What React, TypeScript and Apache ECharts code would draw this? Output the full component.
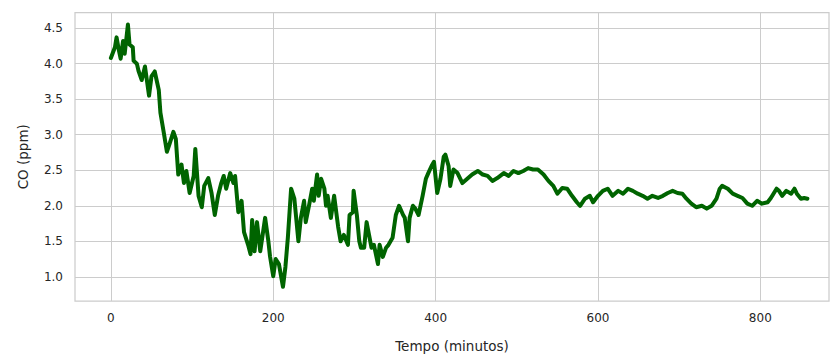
import React, { useEffect, useRef } from "react";
import * as echarts from "echarts";

const minutes = [
  0, 5, 7, 10, 12, 15, 17, 21, 23, 27, 28, 32, 34, 38, 42, 47, 50, 54, 59, 61, 65, 69, 72, 77, 80, 83, 87, 90, 93, 97,
  102, 104, 108, 112, 115, 120, 124, 128, 132, 136, 139, 142, 147, 151, 153, 157, 161, 164, 169, 172, 174, 177, 180, 184, 190, 194, 196, 200,
  203, 207, 212, 215, 218, 222, 226, 231, 234, 238, 240, 244, 248, 250, 254, 256, 259, 263, 265, 267, 271, 275, 280, 283, 287, 292, 294, 298,
  299, 303, 306, 308, 312, 315, 318, 321, 324, 329, 331, 335, 339, 342, 347, 351, 355, 360, 362, 366, 368, 372, 375, 379, 384, 388, 391, 395,
  398, 402, 406, 410, 412, 416, 418, 422, 427, 433, 439, 445, 452, 458, 464, 470, 476, 484, 490, 496, 502, 508, 514, 520, 526, 533, 539,
  545, 550, 556, 562, 568, 574, 578, 584, 590, 594, 600, 606, 612, 618, 625, 631, 637, 643, 649, 655, 661, 667, 674, 680, 686, 692, 698,
  704, 709, 715, 721, 728, 734, 740, 746, 750, 753, 760, 766, 772, 778, 784, 790, 796, 802, 809, 813, 820, 823, 827, 832, 838, 842, 845,
  850, 854, 858,
];

const coPpm = [
  4.08, 4.23, 4.37, 4.18, 4.07, 4.32, 4.14, 4.55, 4.27, 4.23, 4.04, 4.0, 3.9, 3.77, 3.96, 3.55, 3.82, 3.89, 3.63, 3.31, 3.04, 2.76, 2.86, 3.04, 2.94, 2.44, 2.58, 2.32, 2.49, 2.18,
  2.42, 2.8, 2.14, 1.98, 2.28, 2.39, 2.18, 1.87, 2.14, 2.32, 2.42, 2.24, 2.46, 2.32, 2.42, 1.91, 2.07, 1.63, 1.45, 1.32, 1.8, 1.36, 1.77, 1.36, 1.83, 1.5, 1.29, 1.01,
  1.25, 1.18, 0.86, 1.14, 1.55, 2.24, 2.1, 1.5, 1.83, 2.07, 1.77, 2.0, 2.24, 2.07, 2.44, 2.14, 2.38, 2.24, 2.0, 2.14, 1.83, 2.14, 1.7, 1.5, 1.59, 1.45, 1.87, 1.91,
  2.21, 1.87, 1.5, 1.41, 1.41, 1.77, 1.59, 1.41, 1.45, 1.18, 1.45, 1.28, 1.41, 1.45, 1.55, 1.87, 2.0, 1.87, 1.83, 1.5, 1.83, 2.0, 1.96, 1.87, 2.14, 2.38, 2.46, 2.56,
  2.62, 2.18, 2.38, 2.69, 2.72, 2.56, 2.28, 2.51, 2.46, 2.32, 2.38, 2.44, 2.49, 2.44, 2.42, 2.35, 2.39, 2.46, 2.42, 2.49, 2.46, 2.49, 2.53, 2.51, 2.51, 2.44, 2.35,
  2.28, 2.17, 2.25, 2.24, 2.14, 2.05, 2.0, 2.1, 2.14, 2.05, 2.14, 2.21, 2.24, 2.14, 2.21, 2.17, 2.24, 2.21, 2.17, 2.14, 2.1, 2.14, 2.11, 2.14, 2.18, 2.21, 2.18,
  2.17, 2.1, 2.03, 1.98, 2.0, 1.96, 2.0, 2.1, 2.24, 2.28, 2.24, 2.17, 2.14, 2.11, 2.03, 2.0, 2.07, 2.03, 2.05, 2.11, 2.24, 2.21, 2.14, 2.21, 2.17, 2.24, 2.17,
  2.1, 2.11, 2.1,
];

const xTicks = [0, 200, 400, 600, 800];
const yTicks = [1.0, 1.5, 2.0, 2.5, 3.0, 3.5, 4.0, 4.5];

export default function App() {
  const ref = useRef<HTMLDivElement>(null);
  useEffect(() => {
    if (!ref.current) return;
    const chart = echarts.init(ref.current, undefined, { renderer: "svg" });
    const font = "DejaVu Sans";
    const txt = "#262626";
    const gridColor = "#cccccc";
    chart.setOption({
      animation: false,
      backgroundColor: "#ffffff",
      grid: {
        left: 75,
        right: 2,
        top: 12.5,
        bottom: 51,
        show: true,
        borderColor: gridColor,
        borderWidth: 1.25,
      },
      xAxis: {
        type: "value",
        min: -44.2,
        max: 884.6,
        name: "Tempo (minutos)",
        nameLocation: "middle",
        nameGap: 38,
        nameTextStyle: { fontFamily: font, fontSize: 13.5, color: txt },
        axisLine: { show: false },
        axisTick: { show: false },
        splitLine: { show: false },
        axisLabel: {
          fontFamily: font,
          fontSize: 12,
          color: txt,
          margin: 11,
          customValues: xTicks,
        },
      },
      yAxis: {
        type: "value",
        min: 0.66,
        max: 4.72,
        name: "CO (ppm)",
        nameLocation: "middle",
        nameGap: 45,
        nameTextStyle: { fontFamily: font, fontSize: 13.5, color: txt },
        axisLine: { show: false },
        axisTick: { show: false },
        splitLine: { show: false },
        axisLabel: {
          fontFamily: font,
          fontSize: 12,
          color: txt,
          margin: 12,
          customValues: yTicks,
          formatter: (v: number) => v.toFixed(1),
        },
      },
      series: [
        {
          type: "line",
          data: minutes.map((m, i) => [m, coPpm[i]]),
          showSymbol: false,
          z: 3,
          lineStyle: { color: "#006400", width: 4, join: "round", cap: "round" },
          itemStyle: { color: "#006400" },
          markLine: {
            silent: true,
            symbol: "none",
            label: { show: false },
            emphasis: { disabled: true },
            lineStyle: { color: gridColor, width: 1, type: "solid" },
            z: 1,
            data: [
              ...xTicks.map((v) => ({ xAxis: v })),
              ...yTicks.map((v) => ({ yAxis: v })),
            ],
          },
        },
      ],
    });
    return () => chart.dispose();
  }, []);
  return (
    <div
      ref={ref}
      style={{ position: "absolute", left: 0, top: 0, width: 831, height: 358 }}
    />
  );
}
